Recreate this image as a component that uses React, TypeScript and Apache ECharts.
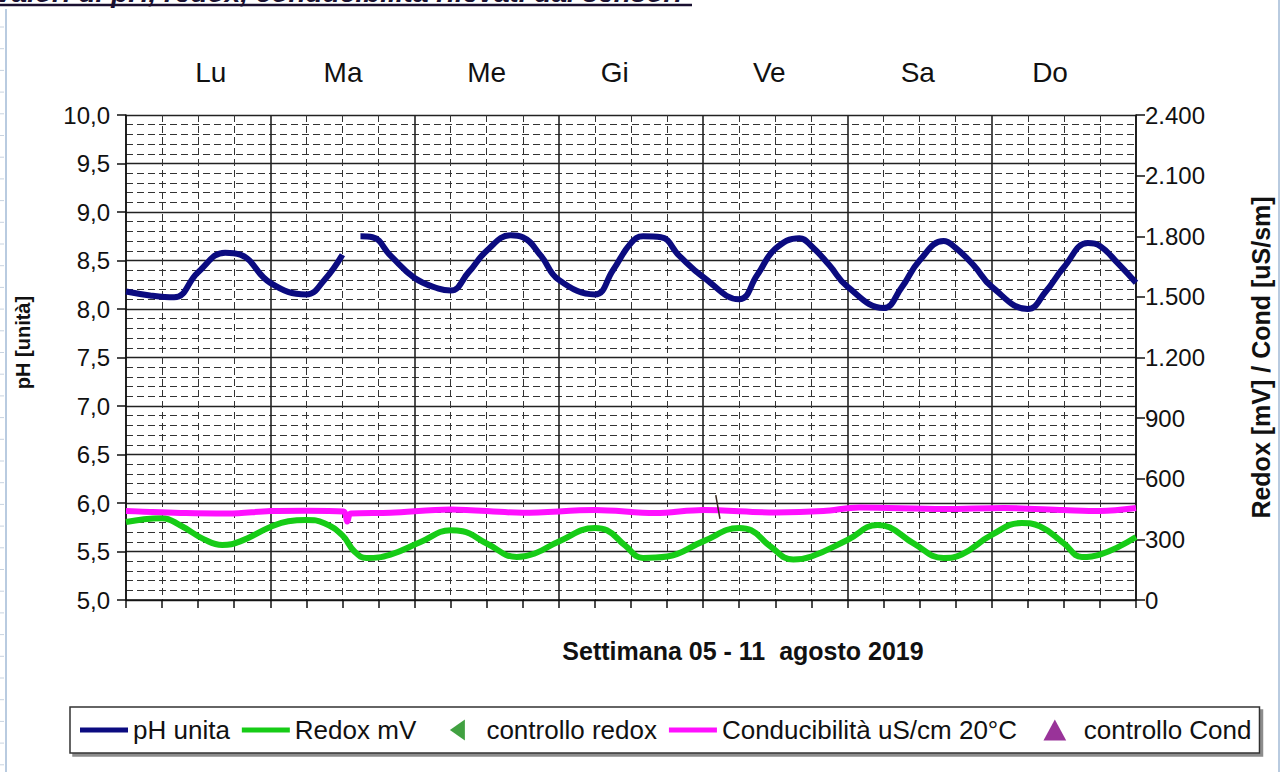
import React, { useEffect, useRef } from "react";
import * as echarts from "echarts";

// ---- data (time in hours from Monday 00:00) ----
const dayLabels = ["Lu", "Ma", "Me", "Gi", "Ve", "Sa", "Do"];
const dayLabelHours = [14.1, 36.1, 60.0, 81.3, 107.0, 131.7, 153.7];

const phHours = [0, 4, 8, 12, 16.5, 19, 24, 30, 33, 36, 37.5, 39, 41, 44, 48, 52, 54, 57, 60, 64, 66, 69, 72, 78, 81, 84, 86, 89, 92, 96, 102, 105, 108, 112, 114, 117, 120, 126, 129, 132, 136, 138, 141, 144, 150, 153, 156, 160, 162, 165, 168];
const phValues = [8.18, 8.14, 8.12, 8.38, 8.58, 8.56, 8.27, 8.15, 8.3, 8.56, null, 8.75, 8.74, 8.55, 8.32, 8.21, 8.19, 8.38, 8.6, 8.76, 8.74, 8.55, 8.3, 8.15, 8.4, 8.68, 8.75, 8.74, 8.55, 8.33, 8.1, 8.35, 8.62, 8.73, 8.65, 8.45, 8.23, 8.01, 8.22, 8.5, 8.7, 8.63, 8.45, 8.23, 8.0, 8.18, 8.43, 8.68, 8.65, 8.47, 8.27];

const redoxHours = [0, 3, 6, 9, 13, 16, 19, 24, 27, 30, 33, 36, 38, 40, 44, 49, 54, 56, 60, 65, 68, 72, 78, 80, 83, 86, 90, 96, 102, 104, 107, 111, 114, 120, 125, 127, 131, 136, 139, 144, 149, 152, 156, 159, 162, 168];
const redoxValues = [386, 400, 405, 370, 300, 272, 290, 361, 390, 396, 380, 320, 240, 208, 225, 287, 345, 340, 280, 213, 230, 290, 356, 345, 270, 208, 215, 290, 356, 345, 270, 200, 215, 297, 371, 360, 280, 208, 225, 322, 381, 365, 280, 213, 225, 312];

const condHours = [0, 10, 17, 24, 30, 36.2, 36.8, 37.4, 44, 54, 66, 78, 88, 96, 108, 116, 122, 136, 146, 156, 162, 168];
const condValues = [440, 430, 428, 440, 442, 438, 388, 428, 432, 448, 432, 445, 430, 445, 433, 440, 458, 450, 455, 445, 440, 455];

const markHours = [98.1, 98.8];
const markValues = [519, 401];

const leftTicks = { min: 5, max: 10, interval: 0.5 };
const rightTicks = { min: 0, max: 2400, interval: 300 };

const pairs = (h: number[], v: (number | null)[]) =>
  h.map((x, i) => [x, v[i] === null ? "-" : v[i]]);

const fmtRight = (v: number) =>
  v >= 1000 ? `${Math.floor(v / 1000)}.${String(v % 1000).padStart(3, "0")}` : String(v);

const lineIcon = "path://M0,0H48V5H0Z";
const leftTri = "path://M10,0L0,7L10,14Z";
const upTri = "path://M0,12L6.5,0L13,12Z";

export default function App() {
  const ref = useRef<HTMLDivElement>(null);
  useEffect(() => {
    if (!ref.current) return;
    const chart = echarts.init(ref.current, null, { renderer: "svg" });
    const font = "Liberation Sans, Arial, sans-serif";
    const gridLine = "#222";
    const baseGraphic: any[] = [
      {
        type: "text",
        x: -4,
        y: 6,
        style: {
          text: "valori di pH, redox, conducibilità rilevati dai sensori",
          font: "italic bold 28px Liberation Sans",
          fill: "#1a1030",
          verticalAlign: "bottom",
        },
      },
      { type: "line", shape: { x1: 0, y1: 5, x2: 692, y2: 5 }, style: { stroke: "#1a1030", lineWidth: 2.5 } },
      { type: "line", shape: { x1: 6, y1: 9, x2: 6, y2: 772 }, style: { stroke: "#b9cbe0", lineWidth: 2 } },
      { type: "line", shape: { x1: 1279, y1: 0, x2: 1279, y2: 772 }, style: { stroke: "#b9cbe0", lineWidth: 2 } },
      ...Array.from({ length: 35 }, (_, i) => ({
        type: "line",
        shape: { x1: 0, y1: 27 + i * 21.7, x2: 4, y2: 27 + i * 21.7 },
        style: { stroke: "#c8d3e0", lineWidth: 1 },
      })),
    ];
    const legendPad: Record<string, string> = {
      "Redox mV": "   ",
      "Conducibilità uS/cm 20°C": "  ",
    };
    chart.setOption({
      animation: false,
      backgroundColor: "#ffffff",
      textStyle: { fontFamily: font },
      grid: { left: 126, right: 147, top: 115, bottom: 172, containLabel: false },
      graphic: baseGraphic,
      legend: {
        data: [
          { name: "pH unita", icon: lineIcon },
          { name: "Redox mV", icon: lineIcon },
          { name: "controllo redox", icon: leftTri },
          { name: "Conducibilità uS/cm 20°C", icon: lineIcon },
          { name: "controllo Cond", icon: upTri },
        ],
        formatter: (name: string) => name + (legendPad[name] || ""),
        left: 70,
        top: 707,
        padding: [10, 8, 10, 10],
        itemGap: 12,
        itemWidth: 48,
        itemHeight: 21,
        symbolKeepAspect: true,
        borderColor: "#333",
        borderWidth: 1.5,
        backgroundColor: "#fff",
        shadowColor: "rgba(0,0,0,0.45)",
        shadowBlur: 0,
        shadowOffsetX: 3,
        shadowOffsetY: 3,
        textStyle: { fontFamily: font, fontSize: 26, color: "#111", whiteSpace: "pre" },
      },
      xAxis: [
        {
          type: "value",
          min: 0,
          max: 168,
          interval: 24,
          position: "bottom",
          name: "Settimana 05 - 11  agosto 2019",
          nameLocation: "middle",
          nameGap: 38,
          nameTextStyle: { fontFamily: font, fontSize: 25, fontWeight: "bold", color: "#111", padding: [0, 0, 0, 224] },
          axisLine: { show: true, onZero: false, lineStyle: { color: "#111", width: 1.5 } },
          axisTick: { show: true, length: 8, lineStyle: { color: "#111", width: 1.5 } },
          minorTick: { show: true, splitNumber: 4, length: 8, lineStyle: { color: "#111", width: 1.5 } },
          axisLabel: { show: false },
          splitLine: { show: true, lineStyle: { color: gridLine, width: 1.6 } },
          minorSplitLine: { show: true, lineStyle: { color: "#333", width: 1, type: [7, 4] } },
        },
      ],
      yAxis: [
        {
          type: "value",
          position: "left",
          min: leftTicks.min,
          max: leftTicks.max,
          interval: leftTicks.interval,
          name: "pH [unità]",
          nameLocation: "middle",
          nameRotate: 90,
          nameGap: 93,
          nameTextStyle: { fontFamily: font, fontSize: 20, fontWeight: "bold", color: "#111", padding: [0, 0, 0, 30] },
          axisLine: { show: true, lineStyle: { color: "#111", width: 1.5 } },
          axisTick: { show: true, length: 9, lineStyle: { color: "#111", width: 1.5 } },
          axisLabel: {
            margin: 16,
            fontFamily: font,
            fontSize: 24,
            color: "#111",
            formatter: (v: number) => v.toFixed(1).replace(".", ","),
          },
          splitLine: { show: true, lineStyle: { color: gridLine, width: 1.4 } },
          minorSplitLine: { show: true, lineStyle: { color: "#333", width: 1, type: [7, 4] } },
          minorTick: { show: false, splitNumber: 5 },
        },
        {
          type: "value",
          position: "right",
          min: rightTicks.min,
          max: rightTicks.max,
          interval: rightTicks.interval,
          name: "Redox [mV] / Cond [uS/sm]",
          nameLocation: "middle",
          nameRotate: 90,
          nameGap: 112,
          nameTextStyle: { fontFamily: font, fontSize: 25, fontWeight: "bold", color: "#111" },
          axisLine: { show: true, lineStyle: { color: "#111", width: 1.5 } },
          axisTick: { show: true, length: 9, lineStyle: { color: "#111", width: 1.5 } },
          axisLabel: { margin: 9, fontFamily: font, fontSize: 24, color: "#111", formatter: fmtRight },
          splitLine: { show: false },
        },
      ],
      series: [
        {
          name: "pH unita",
          type: "line",
          yAxisIndex: 0,
          data: pairs(phHours, phValues),
          smooth: 0.45,
          showSymbol: false,
          connectNulls: false,
          lineStyle: { color: "#0b0b80", width: 6 },
          itemStyle: { color: "#0b0b80" },
          z: 5,
        },
        {
          name: "Redox mV",
          type: "line",
          yAxisIndex: 1,
          data: pairs(redoxHours, redoxValues),
          smooth: 0.45,
          showSymbol: false,
          lineStyle: { color: "#16cc16", width: 6 },
          itemStyle: { color: "#16cc16" },
          z: 4,
        },
        {
          name: "controllo redox",
          type: "scatter",
          yAxisIndex: 1,
          data: [],
          symbol: "triangle",
          symbolRotate: 90,
          symbolSize: 12,
          itemStyle: { color: "#118a11" },
        },
        {
          name: "Conducibilità uS/cm 20°C",
          type: "line",
          yAxisIndex: 1,
          data: pairs(condHours, condValues),
          smooth: 0.35,
          showSymbol: false,
          lineStyle: { color: "#ff10ff", width: 6 },
          itemStyle: { color: "#ff10ff" },
          z: 4,
        },
        {
          name: "controllo Cond",
          type: "scatter",
          yAxisIndex: 1,
          data: [],
          symbol: "triangle",
          symbolSize: 12,
          itemStyle: { color: "#800080" },
        },
        {
          name: "segno",
          type: "line",
          yAxisIndex: 1,
          data: pairs(markHours, markValues),
          showSymbol: false,
          lineStyle: { color: "#3a2a20", width: 1.5 },
          z: 6,
        },
      ],
    });
    const dayTexts = dayLabels.map((d, i) => {
      const px = chart.convertToPixel({ xAxisIndex: 0 }, dayLabelHours[i]) as number;
      return {
        type: "text",
        x: px,
        y: 72,
        style: { text: d, font: "28px Liberation Sans", fill: "#111", align: "center", verticalAlign: "middle" },
      };
    });
    chart.setOption({ graphic: [...baseGraphic, ...dayTexts] });
    return () => chart.dispose();
  }, []);
  return (
    <div
      ref={ref}
      style={{ position: "absolute", left: 0, top: 0, width: 1283, height: 772, background: "#fff" }}
    />
  );
}
